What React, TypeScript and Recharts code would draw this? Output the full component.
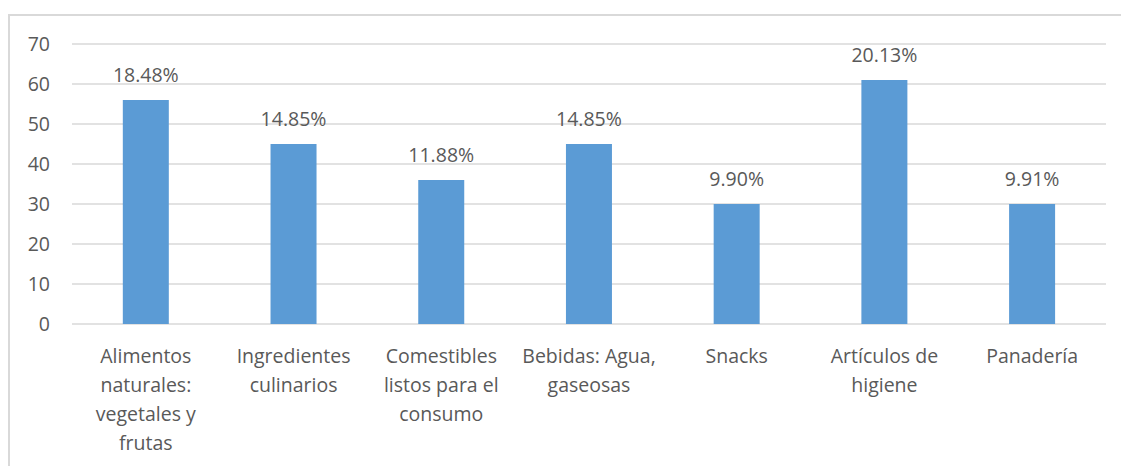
import { Bar, BarChart, CartesianGrid, LabelList, XAxis, YAxis } from 'recharts'

const categories = [
  'Alimentos\nnaturales:\nvegetales y\nfrutas',
  'Ingredientes\nculinarios',
  'Comestibles\nlistos para el\nconsumo',
  'Bebidas: Agua,\ngaseosas',
  'Snacks',
  'Artículos de\nhigiene',
  'Panadería',
]
const counts = [56, 45, 36, 45, 30, 61, 30]
const percents = ['18.48%', '14.85%', '11.88%', '14.85%', '9.90%', '20.13%', '9.91%']
const yTicks = [0, 10, 20, 30, 40, 50, 60, 70]

const data = categories.map((name, i) => ({ name, count: counts[i], pct: percents[i] }))

const FONT = '"Open Sans", Lato, sans-serif'
const TEXT = '#595959'
const FS = 19.5

// wrapped category names, one tspan per line
function CategoryTick(props: any) {
  const { x, y, payload } = props
  const lines = String(payload.value).split('\n')
  return (
    <text x={x} y={y} textAnchor="middle" fill={TEXT} fontSize={FS} fontFamily={FONT}>
      {lines.map((l, i) => (
        <tspan key={i} x={x} dy={i === 0 ? 31 : 29}>
          {l}
        </tspan>
      ))}
    </text>
  )
}

function PctLabel(props: any) {
  const { x, y, width, index } = props
  return (
    <text x={x + width / 2} y={y - 18} textAnchor="middle" fill={TEXT} fontSize={FS} fontFamily={FONT}>
      {percents[index]}
    </text>
  )
}

export default function App() {
  return (
    <div style={{ position: 'absolute', left: 0, top: 0, width: 1121, height: 466, overflow: 'hidden', background: '#fff' }}>
      <div
        style={{
          position: 'absolute',
          left: 8,
          top: 14,
          width: 1200,
          height: 500,
          borderTop: '2px solid #d9d9d9',
          borderLeft: '2px solid #d9d9d9',
        }}
      />
      <div style={{ position: 'absolute', left: 0, top: 0 }}>
        <BarChart
          width={1121}
          height={466}
          data={data}
          margin={{ top: 44, right: 15, left: 0, bottom: 0 }}
          barCategoryGap="34.4%"
        >
          <CartesianGrid vertical={false} stroke="#d9d9d9" strokeWidth={1.3} />
          <XAxis
            dataKey="name"
            axisLine={false}
            tickLine={false}
            height={142}
            interval={0}
            tick={<CategoryTick />}
          />
          <YAxis
            domain={[0, 70]}
            ticks={yTicks}
            width={72}
            axisLine={false}
            tickLine={false}
            tickMargin={16}
            tick={{ fill: TEXT, fontSize: FS, fontFamily: FONT }}
          />
          <Bar dataKey="count" fill="#5b9bd5" isAnimationActive={false}>
            <LabelList dataKey="pct" content={<PctLabel />} />
          </Bar>
        </BarChart>
      </div>
    </div>
  )
}
